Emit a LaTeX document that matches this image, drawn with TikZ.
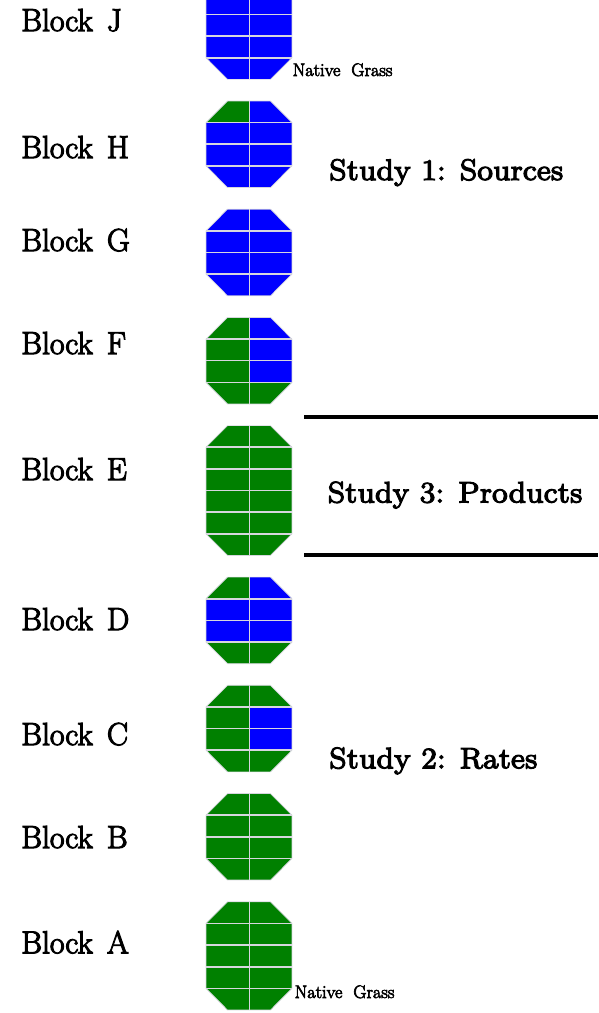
\documentclass[tikz,border=0pt]{standalone}
\usepackage{fontspec}
\newfontfamily\blockrm{lmroman17-regular}[Extension=.otf,FakeBold=3.5]
\newfontfamily\eightrm{lmroman8-regular}[Extension=.otf,FakeBold=3.5]
\definecolor{gr}{RGB}{0,128,0}
\definecolor{bl}{RGB}{0,0,255}
\definecolor{gridline}{RGB}{214,214,222}

% geometry of the plot column
\def\xl{206}\def\xm{249.3}\def\xr{292}
\def\chamf{21.5}\def\rowh{21.64}

% gaps between words of the labels
\newcommand\bgap{\hspace{0.44em}}
\newcommand\ggap{\hspace{0.6em}}

% one plot: #1 top y, #2 number of rows, #3 list of left/right cell colours
\newcommand\octblock[3]{%
  \pgfmathsetmacro\bt{#1}%
  \pgfmathsetmacro\bb{#1+#2*\rowh}%
  \pgfmathsetmacro\bti{\bt+\rowh}%
  \pgfmathsetmacro\bbi{\bb-\rowh}%
  \pgfmathsetmacro\xli{\xl+\chamf}%
  \pgfmathsetmacro\xri{\xr-\chamf}%
  \begin{scope}
    \clip (\xl,\bti) -- (\xli,\bt) -- (\xri,\bt) -- (\xr,\bti) -- (\xr,\bbi)
      -- (\xri,\bb) -- (\xli,\bb) -- (\xl,\bbi) -- cycle;
    \foreach \lc/\rc [count=\i from 0] in {#3}{
      \fill[\lc] (\xl,{\bt+\i*\rowh}) rectangle (\xm,{\bt+(\i+1)*\rowh});
      \fill[\rc] (\xm,{\bt+\i*\rowh}) rectangle (\xr,{\bt+(\i+1)*\rowh});
    }
    \foreach \i in {1,...,\numexpr#2-1\relax}
      \draw[gridrule] (\xl,{\bt+\i*\rowh}) -- (\xr,{\bt+\i*\rowh});
    \draw[gridrule] (\xm,\bt) -- (\xm,\bb);
  \end{scope}
  \draw[plotedge] (\xl,\bti) -- (\xli,\bt) -- (\xri,\bt) -- (\xr,\bti) -- (\xr,\bbi)
      -- (\xri,\bb) -- (\xli,\bb) -- (\xl,\bbi) -- cycle;
}

\begin{document}
\begin{tikzpicture}[x=1pt,y=-1pt,
  gridrule/.style={draw=gridline,line width=1.6pt},
  plotedge/.style={draw=gridline,line width=0.7pt},
  blocklabel/.style={anchor=base west,inner sep=0pt,
    font=\blockrm\fontsize{31.8}{36}\selectfont},
  studylabel/.style={anchor=base west,inner sep=0pt,
    font=\eightrm\fontsize{29.7}{34}\selectfont},
  grasslabel/.style={anchor=base west,inner sep=0pt,
    font=\blockrm\fontsize{18.2}{21}\selectfont},
  divider/.style={line width=3.8pt,black}]
\useasboundingbox (0,0) rectangle (598,1013);
\clip (0,0) rectangle (598,1013);

% plots, top to bottom
\octblock{-28.84}{5}{bl/bl,bl/bl,bl/bl,bl/bl,bl/bl}
\octblock{101}{4}{gr/bl,bl/bl,bl/bl,bl/bl}
\octblock{209.2}{4}{bl/bl,bl/bl,bl/bl,bl/bl}
\octblock{317.4}{4}{gr/bl,gr/bl,gr/bl,gr/gr}
\octblock{425.6}{6}{gr/gr,gr/gr,gr/gr,gr/gr,gr/gr,gr/gr}
\octblock{577.1}{4}{gr/bl,bl/bl,bl/bl,gr/gr}
\octblock{685.3}{4}{gr/gr,gr/bl,gr/bl,gr/gr}
\octblock{793.5}{4}{gr/gr,gr/gr,gr/gr,gr/gr}
\octblock{901.8}{5}{gr/gr,gr/gr,gr/gr,gr/gr,gr/gr}

% block names
\node[blocklabel] (bJ) at (21,31) {Block\bgap J};
\node[blocklabel] (bH) at (21,158) {Block\bgap H};
\node[blocklabel] (bG) at (21,251) {Block\bgap G};
\node[blocklabel] (bF) at (21,354) {Block\bgap F};
\node[blocklabel] (bE) at (21,480) {Block\bgap E};
\node[blocklabel] (bD) at (21,630) {Block\bgap D};
\node[blocklabel] (bC) at (21,745) {Block\bgap C};
\node[blocklabel] (bB) at (21,848) {Block\bgap B};
\node[blocklabel] (bA) at (21,953.3) {Block\bgap A};

% native grass markers
\node[grasslabel] (ngTop) at (292.5,76) {Native\ggap Grass};
\node[grasslabel] (ngBot) at (294.5,998) {Native\ggap Grass};

% studies
\node[studylabel] (s1) at (329,180) {Study 1: Sources};
\node[studylabel] (s3) at (327.5,502.5) {Study 3: Products};
\node[studylabel] (s2) at (329,768.3) {Study 2: Rates};

\coordinate (ruleAL) at (304,417.3);
\coordinate (ruleAR) at (598,417.3);
\coordinate (ruleBL) at (304,555);
\coordinate (ruleBR) at (598,555);
\draw[divider] (ruleAL) -- (ruleAR);
\draw[divider] (ruleBL) -- (ruleBR);
\end{tikzpicture}
\end{document}
